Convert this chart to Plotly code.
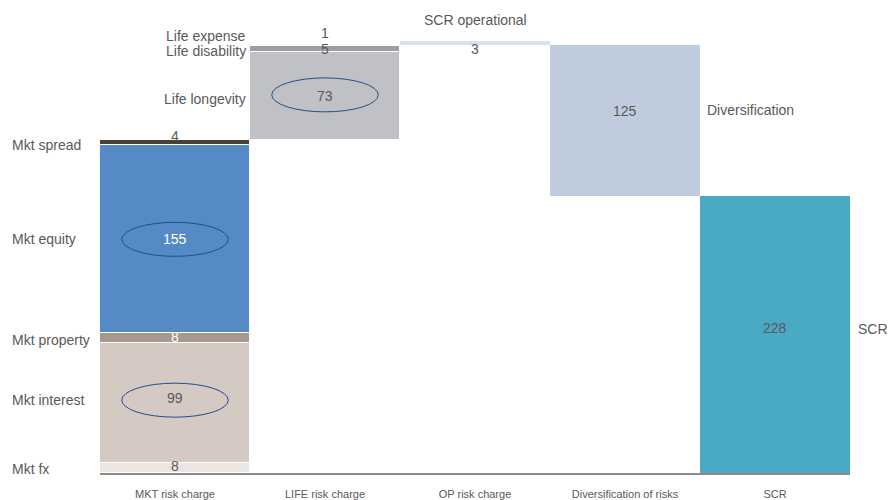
import plotly.graph_objects as go

categories = ["MKT risk charge", "LIFE risk charge", "OP risk charge", "Diversification of risks", "SCR"]

mkt_names = ["Mkt fx", "Mkt interest", "Mkt property", "Mkt equity", "Mkt spread"]
mkt_values = [8, 99, 8, 155, 4]
mkt_colors = ["#ECE6E2", "#D5C9C4", "#A89890", "#568AC6", "#4A3F35"]

life_names = ["Life longevity", "Life disability", "Life expense"]
life_values = [73, 5, 1]
life_colors = ["#C0C1C5", "#9E9E9E", "#4A4A4A"]

op_name = "SCR operational"
op_value = 3
div_name = "Diversification"
div_value = 125
scr_name = "SCR"
scr_value = 228

TXT = "#595959"
FONT = "Liberation Sans, Arial, sans-serif"

fig = go.Figure()
ann = []
shapes = []

def seg(xi, base, val, color, lw=1, lc="white"):
    fig.add_trace(go.Bar(x=[categories[xi]], y=[val], base=[base], width=1.0,
                         marker=dict(color=color, line=dict(color=lc, width=lw)),
                         showlegend=False, hoverinfo="skip"))

# MKT stack
cum = 0
mkt_mid = []
for n, v, c in zip(mkt_names, mkt_values, mkt_colors):
    seg(0, cum, v, c)
    mkt_mid.append(cum + v / 2)
    cum += v
mkt_total = cum

# LIFE stack
cum = mkt_total
life_mid = []
for n, v, c in zip(life_names, life_values, life_colors):
    seg(1, cum, v, c)
    life_mid.append(cum + v / 2)
    cum += v
life_top = cum

# OP
seg(2, life_top, op_value, "#D9E1EC", lw=0)
op_top = life_top + op_value
# Diversification
seg(3, scr_value, div_value, "#BFCCDE", lw=0)
# SCR
seg(4, 0, scr_value, "#4AA9C3", lw=0)

def a(x, y, text, xref="x", xanchor="center", color=TXT, yshift=0, xshift=0, size=14):
    ann.append(dict(x=x, y=y, xref=xref, yref="y", text=text, showarrow=False,
                    xanchor=xanchor, yanchor="middle", yshift=yshift, xshift=xshift,
                    font=dict(family=FONT, size=size, color=color)))

# MKT left labels
lab_x = (12 - 100) / 750
mkt_shift = [-1, 3, -2, 0, -2]
for n, m, s in zip(mkt_names, mkt_mid, mkt_shift):
    a(lab_x, m, n, xref="paper", xanchor="left", yshift=s, xshift=-2)
# MKT values
mkt_val_shift = [2, 5, 1, 0, 7]
mkt_val_col = [TXT, TXT, "white", "white", TXT]
for v, m, s, c in zip(mkt_values, mkt_mid, mkt_val_shift, mkt_val_col):
    a(0, m, str(v), color=c, yshift=s)

# LIFE labels (right-aligned left of bar)
life_lab_x = (246 - 100) / 750
life_shift = [-3, -2, 9]
for n, m, s in zip(life_names, life_mid, life_shift):
    a(life_lab_x, m, n, xref="paper", xanchor="right", yshift=s, xshift=2)
life_val_shift = [0, 0, 12]
for v, m, s in zip(life_values, life_mid, life_val_shift):
    a(1, m, str(v), yshift=s)

# OP
a(2, op_top, op_name, yshift=21)
a(2, op_top, str(op_value), yshift=-8)
# Diversification
a(3, scr_value + div_value / 2, str(div_value), yshift=9)
a((707 - 100) / 750, scr_value + div_value / 2, div_name, xref="paper", xanchor="left", yshift=10, xshift=-2)
# SCR
a(4, scr_value / 2, str(scr_value), yshift=7)
a((858 - 100) / 750, scr_value / 2, scr_name, xref="paper", xanchor="left", yshift=6, xshift=-2)

# Ellipses around key values
def ell(xi, ymid, yshift_units=0):
    shapes.append(dict(type="circle", xref="x", yref="y",
                       x0=xi - 0.355, x1=xi + 0.355,
                       y0=ymid + yshift_units - 14, y1=ymid + yshift_units + 14,
                       line=dict(color="#1F4E8C", width=1)))

ell(0, mkt_mid[3], 0)
ell(0, mkt_mid[1], 2.5)
ell(1, life_mid[0], 1)

fig.update_layout(
    width=889, height=500,
    margin=dict(l=100, r=39, t=36, b=27, autoexpand=False),
    paper_bgcolor="white", plot_bgcolor="white",
    barmode="overlay", bargap=0,
    annotations=ann, shapes=shapes,
    font=dict(family=FONT, color=TXT),
    xaxis=dict(type="category", categoryorder="array", categoryarray=categories,
               range=[-0.5, 4.5], showgrid=False, zeroline=False,
               showline=True, linecolor="#8C8C8C", linewidth=1.5,
               ticks="outside", ticklen=10, tickcolor="rgba(0,0,0,0)",
               tickfont=dict(family=FONT, size=11, color=TXT), automargin=False),
    yaxis=dict(range=[0, 360], visible=False, showgrid=False, zeroline=False, automargin=False),
)

fig.write_html("out.html", config={"displayModeBar": False},
               post_script="document.body.style.margin='0';document.body.style.overflow='hidden';")
